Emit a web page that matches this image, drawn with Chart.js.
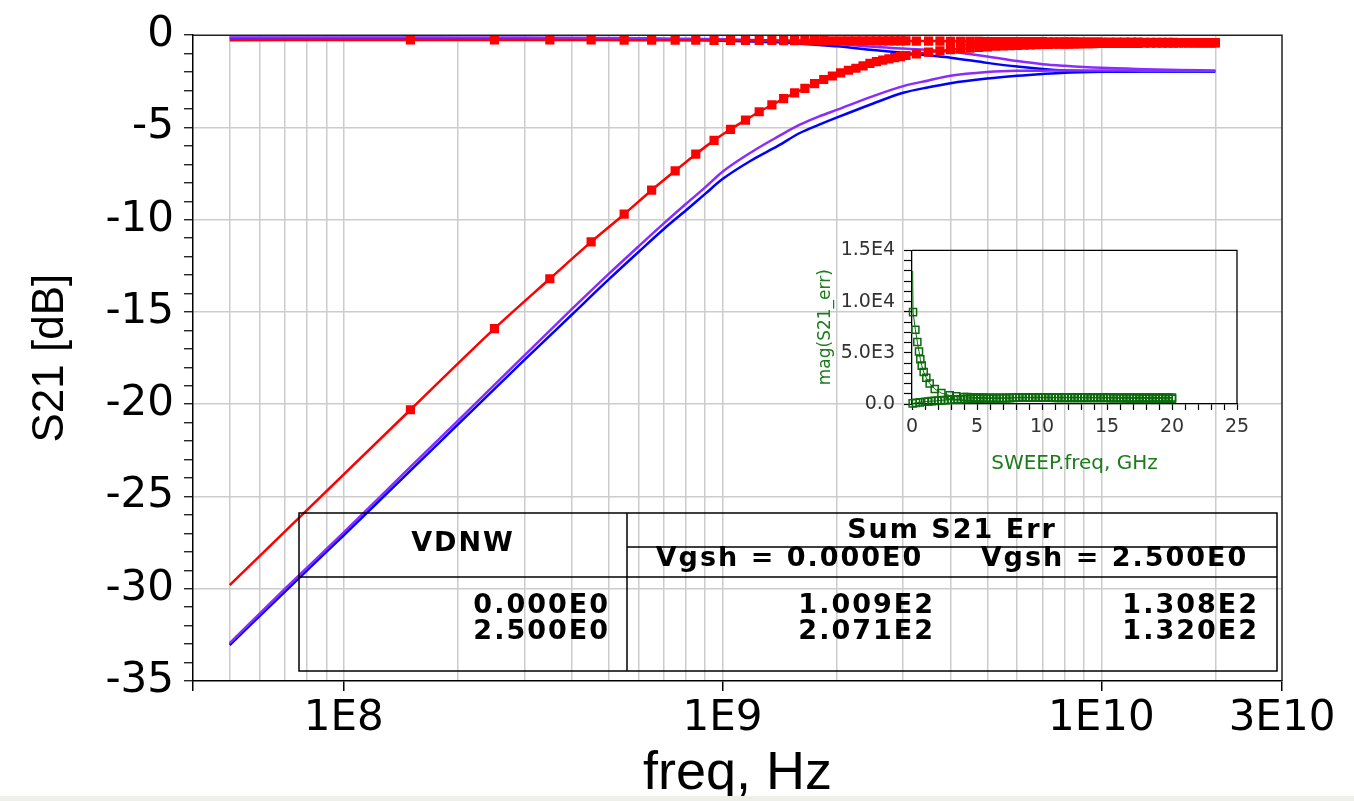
<!DOCTYPE html>
<html>
<head>
<meta charset="utf-8">
<title>S21 [dB] vs freq</title>
<script src="https://cdn.jsdelivr.net/npm/chart.js@4.4.1/dist/chart.umd.min.js"></script>
<style>
  html, body { margin: 0; padding: 0; background: #fff; }
  #wrap { position: relative; width: 1354px; height: 801px; overflow: hidden; }
  #main { position: absolute; left: 0; top: 0; }
  #inset { position: absolute; left: 800px; top: 230px; }
  #strip { position: absolute; left: 0; top: 796px; width: 1354px; height: 5px; background: #efefe9; }
</style>
</head>
<body>
<div id="wrap">
  <canvas id="main" width="1354" height="801"></canvas>
  <canvas id="inset" width="460" height="250"></canvas>
  <div id="strip"></div>
</div>
<script>
// measured S21 (red), both traces on the same sweep points
const measFreq = [5e7, 1.5e8, 2.5e8, 3.5e8, 4.5e8, 5.5e8, 6.5e8, 7.5e8, 8.5e8, 9.5e8,
  1.05e9, 1.15e9, 1.25e9, 1.35e9, 1.45e9, 1.55e9, 1.65e9, 1.75e9, 1.85e9, 1.95e9,
  2.05e9, 2.15e9, 2.25e9, 2.35e9, 2.45e9, 2.55e9, 2.65e9, 2.75e9, 2.85e9, 2.95e9,
  3.05e9,
  3.25e9, 3.5e9, 3.75e9, 4e9, 4.25e9, 4.5e9, 4.75e9, 5e9, 5.25e9, 5.5e9,
  5.75e9, 6e9, 6.25e9, 6.5e9, 6.75e9, 7e9, 7.25e9, 7.5e9, 7.75e9, 8e9,
  8.25e9, 8.5e9, 8.75e9, 9e9, 9.25e9, 9.5e9, 9.75e9, 1e10,
  1.05e10, 1.1e10, 1.15e10, 1.2e10, 1.25e10, 1.3e10, 1.35e10, 1.4e10, 1.45e10, 1.5e10,
  1.55e10, 1.6e10, 1.65e10, 1.7e10, 1.75e10, 1.8e10, 1.85e10, 1.9e10, 1.95e10, 2e10];
const measRise = [-29.8, -20.3, -15.9, -13.2, -11.2, -9.7, -8.4, -7.35, -6.45, -5.7,
  -5.1, -4.6, -4.15, -3.78, -3.44, -3.13, -2.88, -2.62, -2.4, -2.21,
  -2.04, -1.9, -1.79, -1.66, -1.53, -1.43, -1.35, -1.28, -1.22, -1.16,
  -1.1,
  -1.01, -0.92, -0.85, -0.79, -0.74, -0.7, -0.66, -0.63, -0.6, -0.58,
  -0.56, -0.55, -0.54, -0.52, -0.51, -0.5, -0.5, -0.49, -0.49, -0.48,
  -0.48, -0.47, -0.47, -0.46, -0.46, -0.46, -0.45, -0.45,
  -0.45, -0.44, -0.44, -0.44, -0.44, -0.43, -0.43, -0.43, -0.43, -0.43,
  -0.43, -0.42, -0.42, -0.42, -0.42, -0.42, -0.42, -0.42, -0.42, -0.42];
const measFlat = [-0.27, -0.26, -0.26, -0.26, -0.26, -0.27, -0.27, -0.27, -0.27, -0.28,
  -0.28, -0.28, -0.28, -0.28, -0.29, -0.29, -0.29, -0.29, -0.29, -0.3,
  -0.3, -0.3, -0.3, -0.3, -0.3, -0.31, -0.31, -0.31, -0.31, -0.31,
  -0.31,
  -0.32, -0.32, -0.32, -0.33, -0.33, -0.33, -0.33, -0.34, -0.34, -0.34,
  -0.34, -0.35, -0.35, -0.35, -0.35, -0.35, -0.36, -0.36, -0.36, -0.36,
  -0.36, -0.36, -0.37, -0.37, -0.37, -0.37, -0.37, -0.37,
  -0.38, -0.38, -0.38, -0.38, -0.38, -0.39, -0.39, -0.39, -0.39, -0.39,
  -0.39, -0.4, -0.4, -0.4, -0.4, -0.4, -0.4, -0.4, -0.4, -0.4];

// simulated S21 (blue / purple)
const simFreq = [5e7, 7e7, 1e8, 1.5e8, 2e8, 3e8, 4e8, 5e8, 6e8, 7e8,
  8e8, 9e8, 1e9, 1.2e9, 1.4e9, 1.6e9, 1.8e9, 2e9, 2.5e9, 3e9,
  3.5e9, 4e9, 5e9, 6e9, 7e9, 8e9, 1e10, 1.3e10, 1.6e10, 2e10];
const blueRise = [-33.05, -30.15, -27.1, -23.6, -21.1, -17.6, -15.15, -13.25, -11.75, -10.5,
  -9.5, -8.6, -7.8, -6.75, -6.0, -5.3, -4.85, -4.47, -3.7, -3.12,
  -2.82, -2.6, -2.35, -2.2, -2.1, -2.03, -1.98, -1.96, -1.95, -1.95];
const purpleRise = [-32.95, -30.0, -26.95, -23.4, -20.9, -17.35, -14.85, -12.95, -11.45, -10.2,
  -9.15, -8.25, -7.4, -6.3, -5.5, -4.85, -4.4, -4.05, -3.3, -2.76,
  -2.45, -2.2, -2.0, -1.93, -1.92, -1.91, -1.91, -1.92, -1.92, -1.92];
const blueFall = [-0.15, -0.15, -0.15, -0.15, -0.16, -0.17, -0.18, -0.2, -0.22, -0.24,
  -0.26, -0.28, -0.3, -0.34, -0.38, -0.45, -0.53, -0.6, -0.8, -0.95,
  -1.1, -1.22, -1.5, -1.7, -1.83, -1.91, -1.96, -1.97, -1.97, -1.97];
const purpleFall = [-0.12, -0.12, -0.12, -0.12, -0.13, -0.13, -0.14, -0.15, -0.16, -0.18,
  -0.19, -0.2, -0.22, -0.26, -0.3, -0.36, -0.42, -0.48, -0.63, -0.72,
  -0.8, -0.9, -1.15, -1.4, -1.57, -1.66, -1.77, -1.84, -1.88, -1.92];

// inset: mag(S21_err) vs SWEEP.freq in GHz
const errAfreq = [0.05, 0.08, 0.26, 0.41, 0.54, 0.64, 0.75, 0.9, 1.1, 1.36, 1.75, 2.26, 2.9, 3.4,
  4, 4.25, 4.5, 4.75, 5, 5.25, 5.5, 5.75, 6, 6.25,
  6.5, 6.75, 7, 7.25, 7.5, 7.75, 8, 8.25, 8.5, 8.75,
  9, 9.25, 9.5, 9.75, 10, 10.25, 10.5, 10.75, 11, 11.25,
  11.5, 11.75, 12, 12.25, 12.5, 12.75, 13, 13.25, 13.5, 13.75,
  14, 14.25, 14.5, 14.75, 15, 15.25, 15.5, 15.75, 16, 16.25,
  16.5, 16.75, 17, 17.25, 17.5, 17.75, 18, 18.25, 18.5, 18.75,
  19, 19.25, 19.5, 19.75, 20];
const errA = [13000, 8970, 7250, 6060, 5120, 4370, 3750, 3125, 2560, 2000, 1470, 1060, 840, 750,
  680, 670, 660, 650, 640, 630, 620, 615, 610, 605,
  600, 600, 600, 600, 600, 605, 610, 610, 610, 610,
  610, 610, 610, 610, 610, 610, 610, 605, 600, 600,
  600, 600, 600, 600, 600, 600, 600, 595, 590, 590,
  590, 590, 590, 585, 580, 575, 570, 565, 560, 555,
  550, 550, 550, 545, 540, 540, 540, 535, 530, 530,
  530, 525, 520, 515, 510];
const errBfreq = [0.05, 0.3, 0.6,
  1, 1.25, 1.5, 1.75, 2, 2.25, 2.5, 2.75, 3, 3.25,
  3.5, 3.75, 4, 4.25, 4.5, 4.75, 5, 5.25, 5.5, 5.75,
  6, 6.25, 6.5, 6.75, 7, 7.25, 7.5, 7.75, 8, 8.25,
  8.5, 8.75, 9, 9.25, 9.5, 9.75, 10, 10.25, 10.5, 10.75,
  11, 11.25, 11.5, 11.75, 12, 12.25, 12.5, 12.75, 13, 13.25,
  13.5, 13.75, 14, 14.25, 14.5, 14.75, 15, 15.25, 15.5, 15.75,
  16, 16.25, 16.5, 16.75, 17, 17.25, 17.5, 17.75, 18, 18.25,
  18.5, 18.75, 19, 19.25, 19.5, 19.75, 20];
const errB = [60, 110, 160,
  220, 250, 280, 305, 330, 355, 380, 400, 420, 435,
  450, 465, 480, 490, 500, 510, 520, 525, 530, 535,
  540, 545, 550, 555, 560, 570, 580, 600, 620, 630,
  640, 645, 650, 650, 650, 650, 650, 650, 650, 650,
  650, 650, 650, 650, 650, 650, 650, 650, 650, 650,
  650, 650, 650, 650, 650, 645, 640, 640, 640, 640,
  640, 640, 640, 640, 640, 635, 630, 630, 630, 630,
  630, 630, 630, 630, 630, 630, 630];

// table text
const tabHeadLeft = 'VDNW';
const tabHeadRight = 'Sum S21 Err';
const tabSub = ['Vgsh = 0.000E0', 'Vgsh = 2.500E0'];
const tabVdnw = ['0.000E0', '2.500E0'];
const tabErrV0 = ['1.009E2', '2.071E2'];
const tabErrV25 = ['1.308E2', '1.320E2'];

// tick labels
const xLabelVals = [1e8, 1e9, 1e10, 3e10];
const xLabelText = ['1E8', '1E9', '1E10', '3E10'];
const insetYVals = [0, 5000, 10000, 15000];
const insetYText = ['0.0', '5.0E3', '1.0E4', '1.5E4'];

const RED = '#ff0000';
const BLUE = '#0000ff';
const PURPLE = '#8a2bff';
const GREEN = '#0b6b0b';
const GRID = '#cccccc';
const NONE = 'rgba(0,0,0,0)';

function pts(xs, ys) {
    return xs.map((x, i) => ({x: x, y: ys[i]}));
}

// log grid: 4E7 ... 3E10 at 1..9 x decade
const xGrid = [];
for (let e = 7; e <= 10; e++) {
    for (let m = 1; m <= 9; m++) {
        const v = m * Math.pow(10, e);
        if (v >= 4e7 && v <= 3e10) xGrid.push(v);
    }
}
function xLabel(v) {
    for (let i = 0; i < xLabelVals.length; i++) {
        if (Math.abs(v - xLabelVals[i]) / xLabelVals[i] < 1e-6) return xLabelText[i];
    }
    return '';
}

// top and right border of the plot box
const framePlugin = {
    id: 'frame',
    afterDatasetsDraw(chart) {
        const a = chart.chartArea;
        const ctx = chart.ctx;
        ctx.save();
        ctx.strokeStyle = '#222';
        ctx.lineWidth = 1.5;
        ctx.beginPath();
        ctx.moveTo(a.left, a.top);
        ctx.lineTo(a.right, a.top);
        ctx.lineTo(a.right, a.bottom);
        ctx.stroke();
        ctx.restore();
    }
};

// the listing table in the lower part of the plot (transparent)
const tablePlugin = {
    id: 'table',
    afterDraw(chart) {
        const ctx = chart.ctx;
        const L = 299, R = 1277, T = 513, B = 671, S = 627, H = 577, SH = 547;
        const mid = (S + R) / 2;
        ctx.save();
        ctx.strokeStyle = '#000';
        ctx.lineWidth = 1.5;
        ctx.strokeRect(L, T, R - L, B - T);
        ctx.beginPath();
        ctx.moveTo(S, T); ctx.lineTo(S, B);
        ctx.moveTo(L, H); ctx.lineTo(R, H);
        ctx.moveTo(S, SH); ctx.lineTo(R, SH);
        ctx.stroke();

        ctx.fillStyle = '#000';
        ctx.font = 'bold 27px "DejaVu Sans"';
        ctx.letterSpacing = '2px';
        ctx.textBaseline = 'alphabetic';
        ctx.textAlign = 'center';
        ctx.fillText(tabHeadLeft, (L + S) / 2, 551);
        ctx.fillText(tabHeadRight, mid, 538);
        ctx.fillText(tabSub[0], (S + mid) / 2, 566);
        ctx.fillText(tabSub[1], (mid + R) / 2, 566);
        ctx.textAlign = 'right';
        for (let i = 0; i < 2; i++) {
            const y = 613 + i * 26;
            ctx.fillText(tabVdnw[i], S - 17, y);
            ctx.fillText(tabErrV0[i], mid - 17, y);
            ctx.fillText(tabErrV25[i], R - 18, y);
        }
        ctx.restore();
    }
};

const noFirst = c => c.dataIndex === 0 ? 0 : 6.5;

const mainChart = new Chart(document.getElementById('main'), {
    type: 'line',
    data: {
        datasets: [
            {label: 'meas rise', data: pts(measFreq, measRise), borderColor: RED, backgroundColor: RED,
             borderWidth: 2.5, pointStyle: 'rect', pointRadius: noFirst, pointBorderWidth: 0},
            {label: 'meas flat', data: pts(measFreq, measFlat), borderColor: RED, backgroundColor: RED,
             borderWidth: 2.5, pointStyle: 'rect', pointRadius: noFirst, pointBorderWidth: 0},
            {label: 'sim purple rise', data: pts(simFreq, purpleRise), borderColor: PURPLE, borderWidth: 2.5, pointRadius: 0},
            {label: 'sim purple fall', data: pts(simFreq, purpleFall), borderColor: PURPLE, borderWidth: 2.5, pointRadius: 0},
            {label: 'sim blue rise', data: pts(simFreq, blueRise), borderColor: BLUE, borderWidth: 2.5, pointRadius: 0},
            {label: 'sim blue fall', data: pts(simFreq, blueFall), borderColor: BLUE, borderWidth: 2.5, pointRadius: 0}
        ]
    },
    options: {
        responsive: false,
        animation: false,
        devicePixelRatio: 1,
        layout: {padding: {left: 20, top: 28, right: 72, bottom: 0}},
        plugins: {legend: {display: false}, tooltip: {enabled: false}},
        elements: {line: {cubicInterpolationMode: 'monotone'}},
        scales: {
            x: {
                type: 'logarithmic',
                min: 4e7,
                max: 3e10,
                afterBuildTicks: s => { s.ticks = xGrid.map(v => ({value: v})); },
                afterFit: s => { s.height = 120; },
                ticks: {
                    autoSkip: false, maxRotation: 0, minRotation: 0, padding: 3,
                    color: '#000',
                    font: {family: 'DejaVu Sans', size: 42},
                    callback: v => xLabel(v)
                },
                grid: {
                    color: c => (c.tick && c.tick.value > 4.01e7 && c.tick.value < 2.99e10) ? GRID : NONE,
                    lineWidth: 1.5,
                    tickLength: 10,
                    tickWidth: 1.5,
                    tickColor: c => (c.tick && (xLabel(c.tick.value) !== '' || c.tick.value < 4.01e7)) ? '#000' : NONE
                },
                border: {display: true, color: '#000', width: 1.5},
                title: {display: true, text: 'freq, Hz', color: '#000',
                        font: {family: 'Liberation Sans', size: 54, lineHeight: 1},
                        padding: {top: 0, bottom: 0}}
            },
            y: {
                min: -35,
                max: 0,
                afterFit: s => { s.width = 173; },
                ticks: {
                    stepSize: 1, autoSkip: false, maxTicksLimit: 100, padding: 10,
                    color: '#000',
                    font: {family: 'DejaVu Sans', size: 42},
                    callback: v => v % 5 === 0 ? String(v) : ''
                },
                grid: {
                    color: c => (c.tick && c.tick.value % 5 === 0 && c.tick.value > -35 && c.tick.value < 0) ? GRID : NONE,
                    lineWidth: 1.5,
                    tickLength: 9,
                    tickWidth: 1.2,
                    tickColor: '#000'
                },
                border: {display: true, color: '#000', width: 1.5},
                title: {display: true, text: 'S21 [dB]', color: '#000',
                        font: {family: 'Liberation Sans', size: 44}}
            }
        }
    },
    plugins: [framePlugin, tablePlugin]
});

// inset box border (top and right)
const insetFrame = {
    id: 'insetFrame',
    afterDatasetsDraw(chart) {
        const a = chart.chartArea;
        const ctx = chart.ctx;
        ctx.save();
        ctx.strokeStyle = '#000';
        ctx.lineWidth = 1.3;
        ctx.beginPath();
        ctx.moveTo(a.left, a.top);
        ctx.lineTo(a.right, a.top);
        ctx.lineTo(a.right, a.bottom);
        ctx.stroke();
        ctx.restore();
    }
};

const insetChart = new Chart(document.getElementById('inset'), {
    type: 'line',
    data: {
        datasets: [
            {data: pts(errAfreq, errA), borderColor: GREEN, borderWidth: 1, clip: false,
             pointStyle: 'rect', pointRadius: c => c.dataIndex === 0 ? 0 : 5,
             pointBorderColor: GREEN, pointBackgroundColor: NONE, pointBorderWidth: 1.5},
            {data: pts(errBfreq, errB), borderColor: GREEN, borderWidth: 1, clip: false,
             pointStyle: 'rect', pointRadius: 5,
             pointBorderColor: GREEN, pointBackgroundColor: NONE, pointBorderWidth: 1.5}
        ]
    },
    options: {
        responsive: false,
        animation: false,
        devicePixelRatio: 1,
        layout: {padding: {left: 11, top: 14, right: 23, bottom: 0}},
        plugins: {legend: {display: false}, tooltip: {enabled: false}},
        scales: {
            x: {
                type: 'linear', min: 0, max: 25,
                afterFit: s => { s.height = 76; },
                ticks: {
                    stepSize: 1, autoSkip: false, maxRotation: 0, minRotation: 0, padding: 6,
                    color: '#333',
                    font: {family: 'DejaVu Sans', size: 19},
                    callback: v => v % 5 === 0 ? String(v) : ''
                },
                grid: {drawOnChartArea: false, tickLength: 6, tickColor: '#000', tickWidth: 1.2},
                border: {display: true, color: '#000', width: 1.3},
                title: {display: true, text: 'SWEEP.freq, GHz', color: '#1c7c1c',
                        font: {family: 'DejaVu Sans', size: 20}}
            },
            y: {
                min: 0, max: 15000,
                afterFit: s => { s.width = 101; },
                ticks: {
                    stepSize: 1000, autoSkip: false, padding: 9,
                    color: '#333',
                    font: {family: 'DejaVu Sans', size: 19},
                    callback: v => {
                        const i = insetYVals.indexOf(v);
                        return i >= 0 ? insetYText[i] : '';
                    }
                },
                grid: {drawOnChartArea: false, tickLength: 8, tickColor: '#000', tickWidth: 1.2},
                border: {display: true, color: '#000', width: 1.3},
                title: {display: true, text: 'mag(S21_err)', color: '#1c7c1c',
                        font: {family: 'DejaVu Sans', size: 17}}
            }
        }
    },
    plugins: [insetFrame]
});
</script>
</body>
</html>
